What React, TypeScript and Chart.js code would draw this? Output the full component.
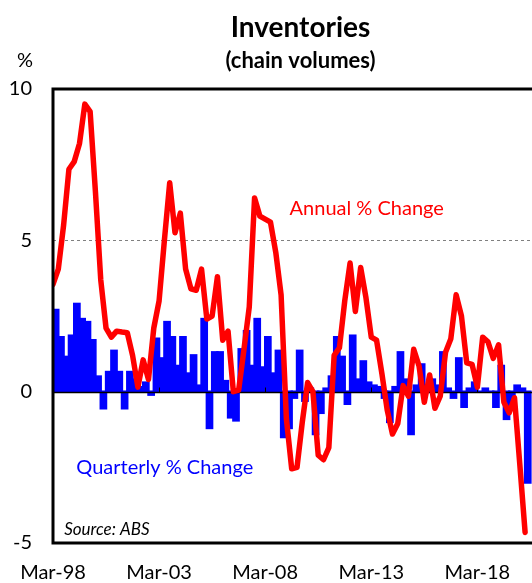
import React, { useEffect, useRef } from "react";
import { Chart, registerables } from "chart.js";

Chart.register(...registerables);

// ---- data -------------------------------------------------------------
const QUARTER_MONTHS = ["Mar", "Jun", "Sep", "Dec"];
const FIRST_YEAR = 1998;
const N_QUARTERS = 90; // Mar-98 .. Jun-20
const quarters: string[] = Array.from({ length: N_QUARTERS }, (_, i) => {
  const yr = (FIRST_YEAR + Math.floor(i / 4)) % 100;
  return `${QUARTER_MONTHS[i % 4]}-${String(yr).padStart(2, "0")}`;
});

const annualChange: number[] = [
  3.55, 4.05, 5.5, 7.35, 7.6, 8.2, 9.5, 9.25, 6.6, 3.7,
  2.1, 1.8, 2.0, 1.97, 1.95, 1.2, 0.15, 1.05, 0.4, 2.1,
  3.0, 5.0, 6.9, 5.25, 5.9, 4.05, 3.4, 3.35, 4.05, 2.4,
  2.5, 3.8, 1.7, 2.0, 0.0, 0.05, 1.4, 2.8, 6.4, 5.8,
  5.7, 5.6, 4.6, 3.2, -0.9, -2.55, -2.5, -1.0, 0.3, 0.0,
  -2.1, -2.25, -1.85, 1.2, 1.45, 3.0, 4.25, 2.65, 4.1, 3.1,
  1.8, 1.7, 0.6, -0.6, -1.4, -1.05, 0.2, -0.15, 1.4, 0.85,
  -0.35, 0.55, -0.55, -0.15, 1.3, 1.75, 3.2, 2.5, 0.95, 0.9,
  0.15, 1.8, 1.65, 1.1, 1.55, -0.35, -0.7, -0.2, -2.4, -4.65,
];

const quarterlyChange: number[] = [
  2.7, 1.8, 1.15, 1.85, 2.9, 2.4, 2.3, 1.7, 0.5, -0.55,
  0.65, 1.35, 0.65, -0.55, 0.65, 0.4, 0.15, 0.3, -0.1, 1.75,
  1.1, 2.3, 1.8, 0.85, 1.8, 0.6, 1.2, 0.2, 2.4, -1.2,
  1.3, 1.3, 0.35, -0.85, -0.95, 1.4, 2.0, 0.85, 2.4, 0.8,
  1.8, 0.6, 1.35, -1.5, -1.2, -0.2, 1.35, -0.3, 0.1, -1.4,
  -0.7, 0.1, 0.5, 1.8, 1.15, -0.4, 1.85, 0.4, 1.0, 0.3,
  0.2, 0.15, -0.2, -1.0, 0.15, 1.3, 0.4, -1.4, 0.2, 0.9,
  0.15, 0.4, 0.2, 1.3, 0.1, -0.2, 1.1, -0.5, 0.1, 0.3,
  0.0, 0.1, 0.0, -0.5, 0.85, -0.9, -0.5, 0.2, 0.1, -3.0,
];

const xTickLabels: string[] = ["Mar-98", "Mar-03", "Mar-08", "Mar-13", "Mar-18"];
const yTickValues: number[] = [-5, 0, 5, 10];

const TITLE = "Inventories";
const SUBTITLE = "(chain volumes)";
const UNIT = "%";
const LINE_LABEL = "Annual % Change";
const BAR_LABEL = "Quarterly % Change";
const SOURCE = "Source: ABS";

const RED = "#ff0000";
const BLUE = "#0000ff";
const FONT = "Lato, 'Open Sans', sans-serif";

// ---- component --------------------------------------------------------
export default function App() {
  const canvasRef = useRef<HTMLCanvasElement | null>(null);

  useEffect(() => {
    const canvas = canvasRef.current;
    if (!canvas) return;

    const decor = {
      id: "decor",
      beforeDatasetsDraw(chart: any) {
        const { ctx, chartArea: a, scales } = chart;
        const y = scales.y;
        ctx.save();
        ctx.strokeStyle = "#808080";
        ctx.lineWidth = 1;
        ctx.setLineDash([3, 3]);
        const y5 = Math.round(y.getPixelForValue(5)) + 0.5;
        ctx.beginPath();
        ctx.moveTo(a.left, y5);
        ctx.lineTo(a.right, y5);
        ctx.stroke();
        ctx.restore();
      },
      afterDatasetDraw(chart: any, args: any) {
        if (args.index !== 1) return;
        const { ctx, chartArea: a, scales } = chart;
        const { x, y } = scales;
        const y0 = Math.round(y.getPixelForValue(0)) + 0.5;
        ctx.save();
        ctx.strokeStyle = "#000";
        ctx.lineWidth = 1.5;
        ctx.beginPath();
        ctx.moveTo(a.left, y0);
        ctx.lineTo(a.right, y0);
        ctx.stroke();
        ctx.lineWidth = 1;
        xTickLabels.forEach((lbl) => {
          const idx = quarters.indexOf(lbl);
          if (idx <= 0) return;
          const px = Math.round(x.getPixelForValue(idx)) + 0.5;
          ctx.beginPath();
          ctx.moveTo(px, y0);
          ctx.lineTo(px, y0 - 5);
          ctx.stroke();
        });
        ctx.restore();
      },
      afterDraw(chart: any) {
        const { ctx, chartArea: a, scales } = chart;
        const { x, y } = scales;
        ctx.save();
        // frame
        ctx.strokeStyle = "#000";
        ctx.lineWidth = 3;
        ctx.lineCap = "square";
        ctx.beginPath();
        ctx.moveTo(a.right + 2, a.top);
        ctx.lineTo(a.left, a.top);
        ctx.lineTo(a.left, a.bottom);
        ctx.lineTo(a.right + 2, a.bottom);
        ctx.stroke();

        // titles
        const cx = (a.left + a.right) / 2 + 8;
        ctx.fillStyle = "#000";
        ctx.textAlign = "center";
        ctx.textBaseline = "alphabetic";
        ctx.font = `bold 28px ${FONT}`;
        ctx.fillText(TITLE, cx, 37);
        ctx.font = `bold 22px ${FONT}`;
        ctx.fillText(SUBTITLE, cx, 68);
        ctx.font = `20px ${FONT}`;
        ctx.fillText(UNIT, 25, 67);

        // in-plot labels
        ctx.textAlign = "left";
        ctx.font = `20px ${FONT}`;
        ctx.fillStyle = RED;
        ctx.fillText(LINE_LABEL, x.getPixelForValue(44.6), y.getPixelForValue(5.85));
        ctx.fillStyle = BLUE;
        ctx.fillText(BAR_LABEL, x.getPixelForValue(4.4), y.getPixelForValue(-2.72));
        ctx.fillStyle = "#000";
        ctx.font = `italic 17px ${FONT}`;
        ctx.fillText(SOURCE, x.getPixelForValue(2.1), y.getPixelForValue(-4.72));
        ctx.restore();
      },
    };

    const chart = new Chart(canvas, {
      type: "bar",
      data: {
        datasets: [
          {
            type: "line",
            label: LINE_LABEL,
            data: annualChange.map((v, i) => ({ x: i, y: v })),
            borderColor: RED,
            backgroundColor: RED,
            borderWidth: 5.5,
            pointRadius: 0,
            tension: 0,
            borderJoinStyle: "round",
            borderCapStyle: "round",
            order: 0,
          } as any,
          {
            type: "bar",
            label: BAR_LABEL,
            data: quarterlyChange.map((v, i) => ({ x: i + 0.5, y: v })),
            backgroundColor: BLUE,
            borderColor: BLUE,
            borderWidth: 0,
            inflateAmount: 1.2,
            barPercentage: 1,
            categoryPercentage: 1,
            order: 1,
          } as any,
        ],
      },
      options: {
        responsive: false,
        animation: false,
        events: [],
        layout: { padding: { top: 89, right: 0, left: 0, bottom: 0 } },
        plugins: {
          legend: { display: false },
          tooltip: { enabled: false },
          title: { display: false },
        },
        scales: {
          x: {
            type: "linear",
            offset: false,
            min: 0,
            max: 90.3,
            grid: { display: false, drawTicks: false, offset: false },
            border: { display: false },
            afterFit(scale: any) {
              scale.height = 40;
            },
            afterBuildTicks(scale: any) {
              scale.ticks = xTickLabels.map((l) => ({ value: quarters.indexOf(l) }));
            },
            ticks: {
              autoSkip: false,
              maxRotation: 0,
              padding: 18,
              color: "#000",
              font: { family: FONT, size: 20 },
              callback: (v: any) => quarters[Number(v)] ?? "",
            },
          },
          y: {
            min: -5,
            max: 10,
            grid: { display: false, drawTicks: false },
            border: { display: false },
            afterFit(scale: any) {
              scale.width = 53;
            },
            afterBuildTicks(scale: any) {
              scale.ticks = yTickValues.map((v) => ({ value: v }));
            },
            ticks: {
              padding: 21,
              color: "#000",
              font: { family: FONT, size: 20 },
              callback: (v: any) => String(v),
            },
          },
        },
      },
      plugins: [decor],
    });

    return () => chart.destroy();
  }, []);

  return (
    <div style={{ position: "absolute", left: 0, top: 0, width: 532, height: 583, background: "#fff" }}>
      <canvas ref={canvasRef} width={532} height={583} style={{ display: "block", width: 532, height: 583 }} />
    </div>
  );
}
